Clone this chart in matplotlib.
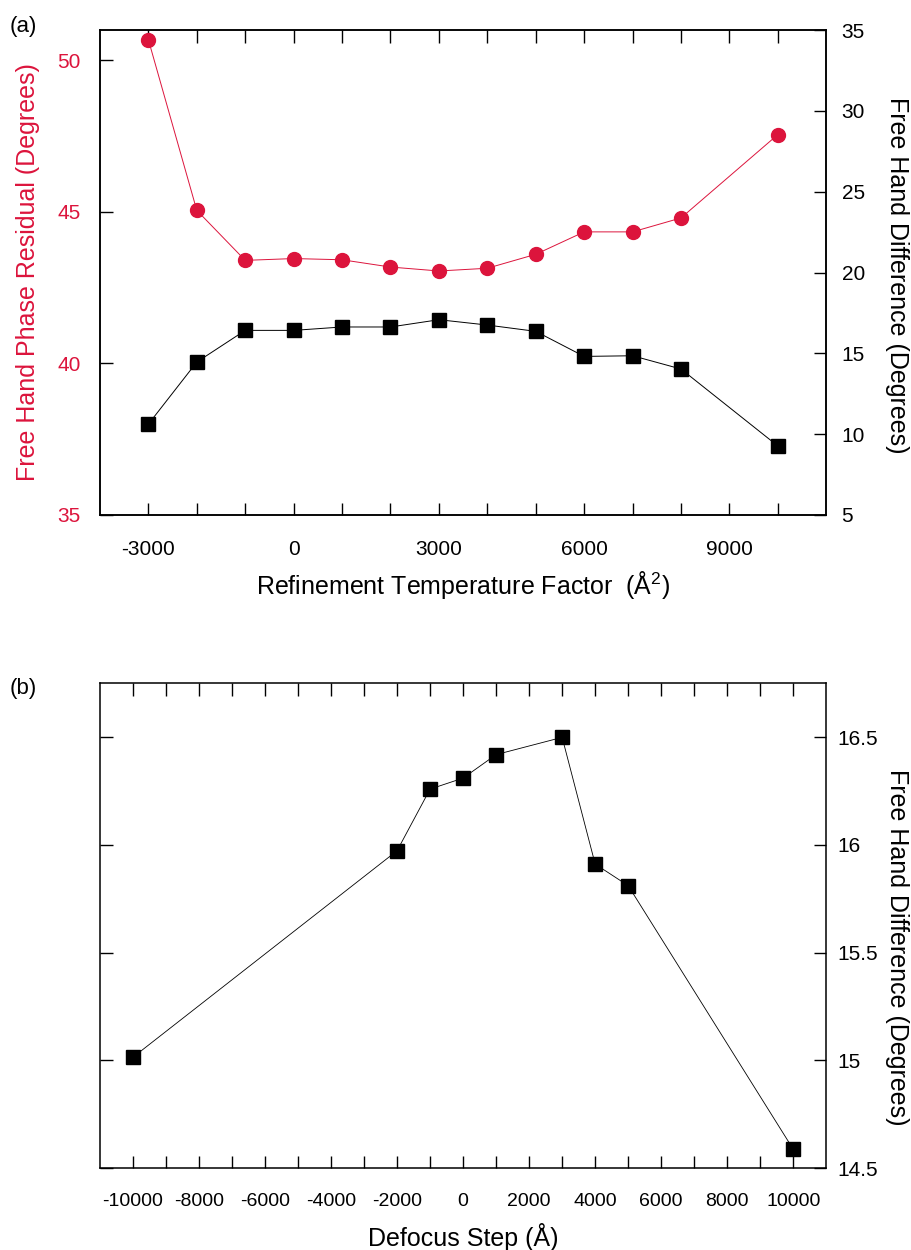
import matplotlib
matplotlib.use("Agg")
import matplotlib.pyplot as plt
from matplotlib.ticker import FixedLocator, FormatStrFormatter

plt.rcParams["font.family"] = ["Liberation Sans", "DejaVu Sans"]
plt.rcParams["mathtext.fontset"] = "custom"
plt.rcParams["mathtext.rm"] = "Liberation Sans"
plt.rcParams["mathtext.default"] = "regular"
plt.rcParams["axes.unicode_minus"] = False

RED = "#DC143C"

# (a) refinement temperature factor scan
bfactor = [-3000, -2000, -1000, 0, 1000, 2000, 3000, 4000, 5000, 6000, 7000, 8000, 10000]
phase_residual = [50.68, 45.05, 43.40, 43.46, 43.42, 43.18, 43.05, 43.14, 43.60, 44.34, 44.34, 44.80, 47.55]
hand_diff_a = [10.62, 14.46, 16.42, 16.42, 16.63, 16.63, 17.08, 16.75, 16.36, 14.81, 14.85, 14.03, 9.27]

# (b) defocus step scan
defocus = [-10000, -2000, -1000, 0, 1000, 3000, 4000, 5000, 10000]
hand_diff_b = [15.015, 15.973, 16.259, 16.31, 16.419, 16.499, 15.911, 15.811, 14.588]

fig = plt.figure(figsize=(9.12, 12.5), dpi=100)

tick_kw = dict(direction="in", length=9, width=1.0)

# ---- panel (a)
ax1 = fig.add_axes([0.1096, 0.588, 0.7964, 0.388])
ax2 = ax1.twinx()

ax1.plot(bfactor, phase_residual, "-", color=RED, lw=0.7, marker="o", ms=10, mfc=RED, mec=RED, zorder=3)
ax2.plot(bfactor, hand_diff_a, "-", color="black", lw=0.7, marker="s", ms=9.5, mfc="black", mec="black", zorder=3)

ax1.set_xlim(-4000, 11000)
ax1.set_ylim(35, 51)
ax2.set_ylim(5, 35)

ax1.set_xticks([-3000, 0, 3000, 6000, 9000])
ax1.xaxis.set_minor_locator(FixedLocator(list(range(-3000, 10001, 1000))))
ax1.set_yticks([35, 40, 45, 50])
ax2.set_yticks([5, 10, 15, 20, 25, 30, 35])

ax1.tick_params(axis="x", which="both", top=True, pad=18, labelsize=15, **tick_kw)
ax1.tick_params(axis="y", labelcolor=RED, color="black", pad=14, labelsize=15, **tick_kw)
ax2.tick_params(axis="y", pad=11, labelsize=15, **tick_kw)

ax1.set_xlabel("Refinement Temperature Factor  (Å$^{2}$)", fontsize=18, va="center")
ax1.xaxis.set_label_coords(0.5, -0.144)
ax1.set_ylabel("Free Hand Phase Residual (Degrees)", fontsize=18, color=RED, va="center")
ax1.yaxis.set_label_coords(-0.099, 0.5)
ax2.set_ylabel("Free Hand Difference (Degrees)", fontsize=18, rotation=-90, va="center", ha="center")
ax2.yaxis.set_label_coords(1.098, 0.495)

for ax in (ax1, ax2):
    for sp in ax.spines.values():
        sp.set_linewidth(1.1)

fig.text(0.011, 0.979, "(a)", fontsize=16, va="center")

# ---- panel (b)
ax3 = fig.add_axes([0.1096, 0.0654, 0.7964, 0.388])
ax3.plot(defocus, hand_diff_b, "-", color="black", lw=0.6, marker="s", ms=9.5, mfc="black", mec="black", zorder=3)
ax3.set_xlim(-11000, 11000)
ax3.set_ylim(14.5, 16.75)
ax3.set_xticks(list(range(-10000, 10001, 2000)))
ax3.xaxis.set_minor_locator(FixedLocator(list(range(-10000, 10001, 1000))))
ax3.set_yticks([14.5, 15, 15.5, 16, 16.5])
ax3.yaxis.set_major_formatter(FormatStrFormatter("%g"))
ax3.tick_params(axis="x", which="both", top=True, pad=18, labelsize=14, **tick_kw)
ax3.tick_params(axis="y", left=True, right=True, labelleft=False, labelright=True,
                pad=8, labelsize=15, **tick_kw)
ax3.yaxis.set_label_position("right")
ax3.set_ylabel("Free Hand Difference (Degrees)", fontsize=18, rotation=-90, va="center", ha="center")
ax3.yaxis.set_label_coords(1.098, 0.455)
ax3.set_xlabel("Defocus Step (Å)", fontsize=18, va="center")
ax3.xaxis.set_label_coords(0.5, -0.142)
for sp in ax3.spines.values():
    sp.set_linewidth(1.1)

fig.text(0.011, 0.449, "(b)", fontsize=16, va="center")

fig.savefig("out.png", dpi=100)
